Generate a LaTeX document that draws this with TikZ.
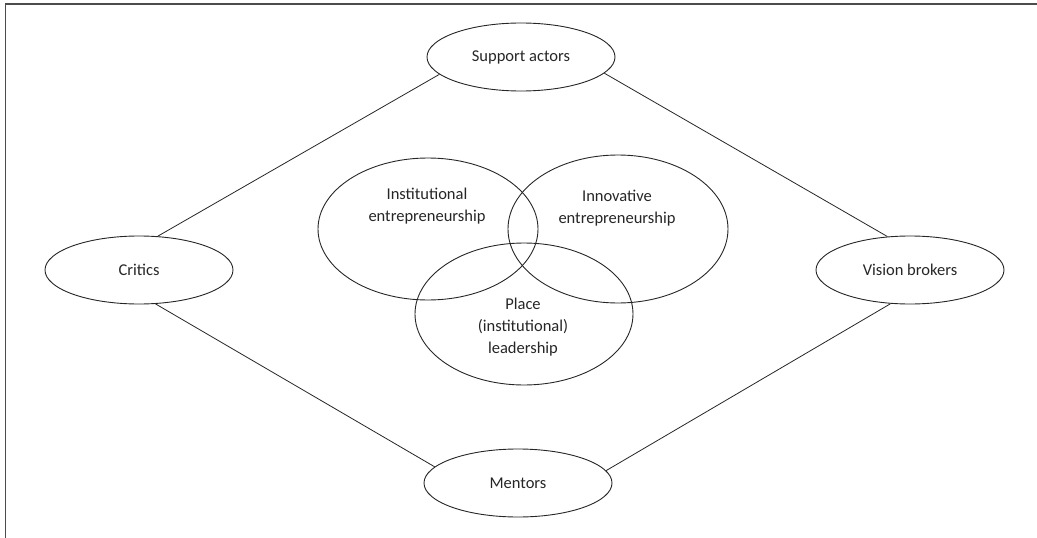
\documentclass[tikz,border=0pt]{standalone}
\usepackage{fontspec}
\setmainfont{Carlito}
\usetikzlibrary{shapes.geometric}

\begin{document}
\begin{tikzpicture}[x=1pt,y=-1pt,
  actor/.style={draw=black!85,line width=0.9pt,ellipse,inner sep=0pt,
    minimum width=188pt,minimum height=68pt,text=black!85},
  venn/.style={draw=black!85,line width=0.9pt,ellipse,inner sep=0pt},
  vtext/.style={align=center,text=black!85},
  link/.style={draw=black!85,line width=0.8pt},
  font=\fontsize{16.5}{22}\selectfont]
\useasboundingbox (0,0) rectangle (1037,538);

% Frame (top and left edges)
\draw[line width=1.3pt,black!70] (1037,4) -- (5.5,4) -- (5.5,538);

% Outer actors
\node[actor] (support) at (521,57) {Support actors};
\node[actor] (critics) at (139,270) {Critics};
\node[actor] (vision) at (910,270) {Vision brokers};
\node[actor] (mentors) at (518,483) {Mentors};

% Links between actors (anchored by angle on each ellipse)
\foreach \a/\p/\b/\q in {critics/61/support/192, support/349/vision/124,
                         vision/240/mentors/8, mentors/169/critics/-64}
  \draw[link] (\a.\p) -- (\b.\q);

% Overlapping fields
\node[venn,minimum width=220pt,minimum height=142pt] (inst) at (428,229) {};
\node[venn,minimum width=220pt,minimum height=148pt] (innov) at (618,229) {};
\node[venn,minimum width=218pt,minimum height=142pt] (place) at (524,314) {};

\node[vtext] (inst text) at (427,206) {Institutional\\entrepreneurship};
\node[vtext] (innov text) at (617,208) {Innovative\\entrepreneurship};
\node[vtext] (place text) at (523,327) {Place\\(institutional)\\leadership};
\end{tikzpicture}
\end{document}
